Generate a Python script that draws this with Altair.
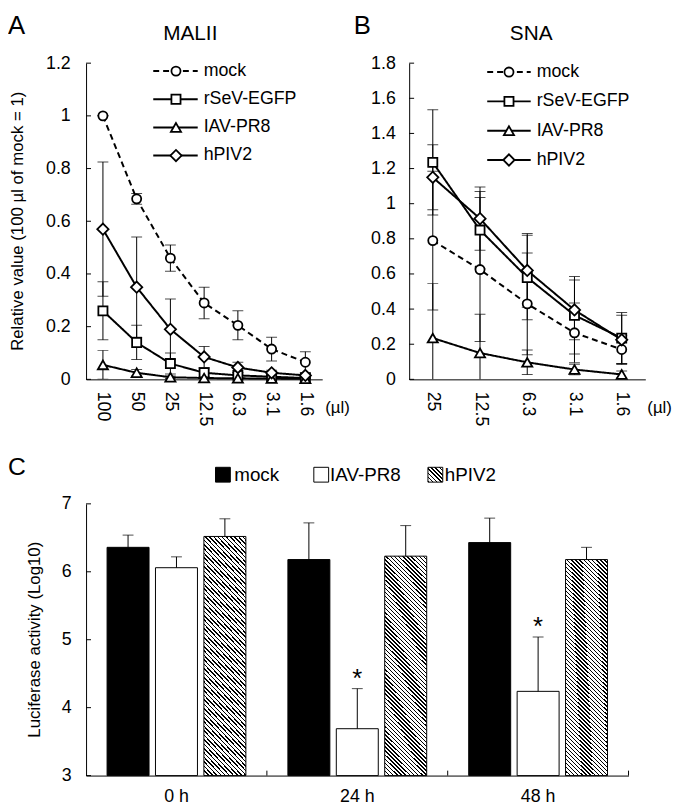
import math
import altair as alt
import pandas as pd

FONT = "Liberation Sans, Arial, Helvetica, sans-serif"
SERIES = ["mock", "rSeV-EGFP", "IAV-PR8", "hPIV2"]
SHAPES = ["circle", "square", "triangle-up", "diamond"]
SIZES = [85, 85, 105, 130]

# ---------------- Panel A (MALII) ----------------
A_DOSES = ["100", "50", "25", "12.5", "6.3", "3.1", "1.6"]
A_MOCK = [1.0, 0.685, 0.46, 0.29, 0.205, 0.115, 0.065]
A_MOCK_ERR = [0.0, 0.02, 0.05, 0.06, 0.055, 0.045, 0.04]
A_RSEV = [0.26, 0.14, 0.06, 0.025, 0.015, 0.01, 0.005]
A_RSEV_ERR = [0.11, 0.065, 0.04, 0.015, 0.01, 0.006, 0.004]
A_IAV = [0.055, 0.025, 0.008, 0.005, 0.004, 0.003, 0.002]
A_IAV_ERR = [0.055, 0.012, 0.005, 0.003, 0.002, 0.002, 0.001]
A_HPIV = [0.57, 0.35, 0.19, 0.085, 0.045, 0.025, 0.015]
A_HPIV_ERR = [0.255, 0.19, 0.115, 0.04, 0.02, 0.01, 0.008]
A_YTICKS = [0, 0.2, 0.4, 0.6, 0.8, 1.0, 1.2]

# ---------------- Panel B (SNA) ----------------
B_DOSES = ["25", "12.5", "6.3", "3.1", "1.6"]
B_MOCK = [0.79, 0.625, 0.43, 0.265, 0.17]
B_MOCK_ERR = [0.395, 0.41, 0.29, 0.17, 0.08]
B_RSEV = [1.235, 0.85, 0.58, 0.365, 0.235]
B_RSEV_ERR = [0.30, 0.22, 0.24, 0.22, 0.145]
B_IAV = [0.235, 0.15, 0.097, 0.056, 0.028]
B_IAV_ERR = [0.31, 0.22, 0.07, 0.03, 0.02]
B_HPIV = [1.15, 0.915, 0.62, 0.395, 0.225]
B_HPIV_ERR = [0.185, 0.18, 0.21, 0.17, 0.14]
B_YTICKS = [0, 0.2, 0.4, 0.6, 0.8, 1.0, 1.2, 1.4, 1.6, 1.8]

# ---------------- Panel C ----------------
C_TIMES = ["0 h", "24 h", "48 h"]
C_GROUPS = ["mock", "IAV-PR8", "hPIV2"]
C_MOCK = [6.36, 6.18, 6.43]
C_MOCK_ERR = [0.18, 0.54, 0.36]
C_IAV = [6.06, 3.69, 4.24]
C_IAV_ERR = [0.16, 0.59, 0.80]
C_HPIV = [6.52, 6.23, 6.18]
C_HPIV_ERR = [0.26, 0.45, 0.18]
C_IAV_SIG = ["", "*", "*"]
C_YTICKS = [3, 4, 5, 6, 7]


def hatch(w, h, period=3.0, duty=0.36):
    k = (w + h) / (w * w + h * h)
    n = max(1, round((w + h) / math.sqrt(2) / period))
    stops = []
    for i in range(n):
        a, b, c = i / n, (i + duty) / n, (i + 1) / n
        stops += [{"offset": a, "color": "black"}, {"offset": b, "color": "black"},
                  {"offset": b, "color": "white"}, {"offset": c, "color": "white"}]
    return {"gradient": "linear", "x1": 0, "y1": 1, "x2": k * w, "y2": 1 - k * h,
            "stops": stops}


def text_layer(txt, x, y, size, align="left", baseline="middle", angle=0):
    kw = dict(align=align, baseline=baseline, font=FONT, fontSize=size, color="black")
    if angle:
        kw["angle"] = angle
    return alt.Chart(pd.DataFrame({"t": [txt]})).mark_text(**kw).encode(
        x=alt.value(x), y=alt.value(y), text="t:N")


def line_panel(doses, vals, errs, yticks, ymax, label, label_x, title, title_x,
               leg, unit_x, ypad, ytitle=None, W=239, H=320):
    rows = []
    for s in SERIES:
        for i, d in enumerate(doses):
            v, e = vals[s][i], errs[s][i]
            rows.append(dict(dose=d, i=i, series=s, v=v, lo=v - e, hi=v + e))
    df = pd.DataFrame(rows)
    xax = alt.Axis(labelAngle=90, ticks=False, tickSize=0, labelPadding=12, title=None,
                   labelFontSize=18, labelAlign="left", labelBaseline="middle")
    yax = alt.Axis(values=yticks, format="~g", ticks=False, tickSize=0, labelPadding=ypad,
                   title=None, labelFontSize=18, grid=False)
    xs = alt.Scale(type="point", padding=0.5, domain=doses)
    ys = alt.Scale(domain=[0, ymax], nice=False, zero=True)
    X = alt.X("dose:N", sort=doses, scale=xs, axis=xax)

    def Y(f):
        return alt.Y(f, type="quantitative", scale=ys, axis=yax)

    base = alt.Chart(df)
    err = base.mark_rule(color="black", strokeWidth=1, clip=True).encode(
        x=X, y=Y("lo"), y2="hi:Q")
    cap_lo = base.mark_tick(color="black", thickness=1, size=11, clip=True).encode(x=X, y=Y("lo"))
    cap_hi = base.mark_tick(color="black", thickness=1, size=11, clip=True).encode(x=X, y=Y("hi"))
    dash = alt.StrokeDash("series:N", scale=alt.Scale(domain=SERIES, range=[[6, 4], [1, 0], [1, 0], [1, 0]]),
                          legend=None)
    lines = base.mark_line(color="black", strokeWidth=2).encode(
        x=X, y=Y("v"), detail="series:N", strokeDash=dash, order="i:Q")
    pts = []
    for s, shp, sz in zip(SERIES, SHAPES, SIZES):
        pts.append(base.transform_filter(alt.datum.series == s).mark_point(
            shape=shp, size=sz, filled=True, fill="white", stroke="black", strokeWidth=1.8,
            opacity=1).encode(x=X, y=Y("v")))
    tk = alt.Chart(pd.DataFrame({"t": yticks})).mark_rule(color="black", strokeWidth=1).encode(
        x=alt.value(0), x2=alt.value(5), y=Y("t"))
    data_layers = alt.layer(err, cap_lo, cap_hi, lines, *pts, tk)

    ld = pd.DataFrame({"series": SERIES, "row": list(range(4))})
    LY = alt.Y("row:Q", scale=alt.Scale(domain=[0, 3], range=[leg["y0"], leg["y3"]]), axis=None)
    lb = alt.Chart(ld)
    l1 = lb.mark_rule(color="black", strokeWidth=2).encode(
        x=alt.value(leg["x0"]), x2=alt.value(leg["x1"]), y=LY, strokeDash=dash)
    lps = []
    for s, shp, sz in zip(SERIES, SHAPES, SIZES):
        lps.append(lb.transform_filter(alt.datum.series == s).mark_point(
            shape=shp, size=sz, filled=True, fill="white", stroke="black", strokeWidth=1.8,
            opacity=1).encode(x=alt.value(leg["xm"]), y=LY))
    l3 = lb.mark_text(align="left", baseline="middle", font=FONT, fontSize=18, color="black").encode(
        x=alt.value(leg["xt"]), y=LY, text="series:N")
    legend_layers = alt.layer(l1, *lps, l3)

    deco = [text_layer(label, label_x, -51, 26, baseline="top"),
            text_layer(title, title_x, -29, 21, align="center"),
            text_layer("(µl)", unit_x, 349, 17)]
    if ytitle:
        deco.append(text_layer(ytitle, -69, H / 2, 17, align="center", angle=270))
    return alt.layer(data_layers, legend_layers, *deco).resolve_scale(y="independent").properties(
        width=W, height=H)


panel_a = line_panel(
    A_DOSES,
    {"mock": A_MOCK, "rSeV-EGFP": A_RSEV, "IAV-PR8": A_IAV, "hPIV2": A_HPIV},
    {"mock": A_MOCK_ERR, "rSeV-EGFP": A_RSEV_ERR, "IAV-PR8": A_IAV_ERR, "hPIV2": A_HPIV_ERR},
    A_YTICKS, 1.2, "A", -79, "MALII", 105.5,
    dict(x0=68, x1=113, xm=91, xt=119, y0=8, y3=93.5), 242, 16,
    ytitle="Relative value (100 µl of mock = 1)")

panel_b = line_panel(
    B_DOSES,
    {"mock": B_MOCK, "rSeV-EGFP": B_RSEV, "IAV-PR8": B_IAV, "hPIV2": B_HPIV},
    {"mock": B_MOCK_ERR, "rSeV-EGFP": B_RSEV_ERR, "IAV-PR8": B_IAV_ERR, "hPIV2": B_HPIV_ERR},
    B_YTICKS, 1.8, "B", -56, "SNA", 123.5,
    dict(x0=79, x1=123, xm=101, xt=129, y0=9, y3=98), 241, 14)

# ---------------- Panel C build ----------------
CW, CH = 549, 275
crows = []
for g, vals, errs in zip(C_GROUPS, [C_MOCK, C_IAV, C_HPIV], [C_MOCK_ERR, C_IAV_ERR, C_HPIV_ERR]):
    for i, t in enumerate(C_TIMES):
        crows.append(dict(time=t, group=g, v=vals[i], hi=vals[i] + errs[i],
                          sig=C_IAV_SIG[i] if g == "IAV-PR8" else ""))
cdf = pd.DataFrame(crows)

XAX_C = alt.Axis(labelAngle=0, ticks=False, tickSize=0, labelPadding=12, title=None, labelFontSize=18)
YAX_C = alt.Axis(values=C_YTICKS, ticks=False, tickSize=0, labelPadding=15, title=None,
                 labelFontSize=18, format="d", grid=False)
xsC = alt.Scale(domain=C_TIMES, paddingInner=0, paddingOuter=0)
XC = alt.X("time:N", sort=C_TIMES, scale=xsC, axis=XAX_C)
XO = alt.XOffset("group:N", sort=C_GROUPS,
                 scale=alt.Scale(domain=C_GROUPS, paddingInner=0.133, paddingOuter=0.434))
ysC = alt.Scale(domain=[3, 7], nice=False, zero=False)


def YC(f):
    return alt.Y(f, type="quantitative", scale=ysC, axis=YAX_C)


cb = alt.Chart(cdf)
bar_fills = ["black", "white", hatch(42.5, 227)]
bars = [cb.transform_filter(alt.datum.group == g).mark_bar(
    fill=f, stroke="black", strokeWidth=1, opacity=1).encode(
    x=XC, xOffset=XO, y=YC("v"), y2=alt.datum(3)) for g, f in zip(C_GROUPS, bar_fills)]
c_err = cb.mark_rule(color="black", strokeWidth=1).encode(x=XC, xOffset=XO, y=YC("v"), y2="hi:Q")
c_cap = cb.mark_tick(color="black", thickness=1, size=11).encode(x=XC, xOffset=XO, y=YC("hi"))
c_star = cb.transform_filter(alt.datum.sig != "").mark_text(
    font=FONT, fontSize=26, baseline="alphabetic", dy=-2, color="black").encode(
    x=XC, xOffset=XO, y=YC("hi"), text="sig:N")
c_ytk = alt.Chart(pd.DataFrame({"t": C_YTICKS})).mark_rule(color="black", strokeWidth=1).encode(
    x=alt.value(0), x2=alt.value(5), y=YC("t"))
bd = pd.DataFrame({"time": C_TIMES[1:]})
c_xtk0 = alt.Chart(bd).mark_rule(color="black", strokeWidth=1).encode(
    x=alt.X("time:N", sort=C_TIMES, scale=xsC, axis=XAX_C, bandPosition=0),
    y=alt.value(CH), y2=alt.value(CH - 5))
c_xtk1 = alt.Chart(pd.DataFrame({"time": C_TIMES[-1:]})).mark_rule(color="black", strokeWidth=1).encode(
    x=alt.X("time:N", sort=C_TIMES, scale=xsC, axis=XAX_C, bandPosition=1),
    y=alt.value(CH), y2=alt.value(CH - 5))

one = pd.DataFrame({"t": [""]})
leg_sq = []
for f, xpos in zip(bar_fills[:2] + [hatch(15, 15)], [138.5, 238, 353.5]):
    leg_sq.append(alt.Chart(one).mark_square(size=225, fill=f, stroke="black", strokeWidth=1,
                                             opacity=1).encode(x=alt.value(xpos), y=alt.value(-29.5)))
leg_tx = [text_layer(g, xpos, -29.5, 19) for g, xpos in zip(C_GROUPS, [150, 247, 363])]

panel_c = alt.layer(
    *bars, c_err, c_cap, c_star, c_ytk, c_xtk0, c_xtk1, *leg_sq, *leg_tx,
    text_layer("C", -79, -49, 25, baseline="top"),
    text_layer("Luciferase activity (Log10)", -52, CH / 2, 17, align="center", angle=270),
).properties(width=CW, height=CH)

top = alt.hconcat(panel_a, panel_b, spacing=88, bounds="flush")
chart = alt.vconcat(top, panel_c, spacing=29).properties(padding=0).configure_view(
    stroke=None).configure_axis(
    labelFont=FONT, labelColor="black", domainColor="black", domainWidth=1, grid=False)

chart.save("out.html", embed_options={"renderer": "svg", "actions": False})
